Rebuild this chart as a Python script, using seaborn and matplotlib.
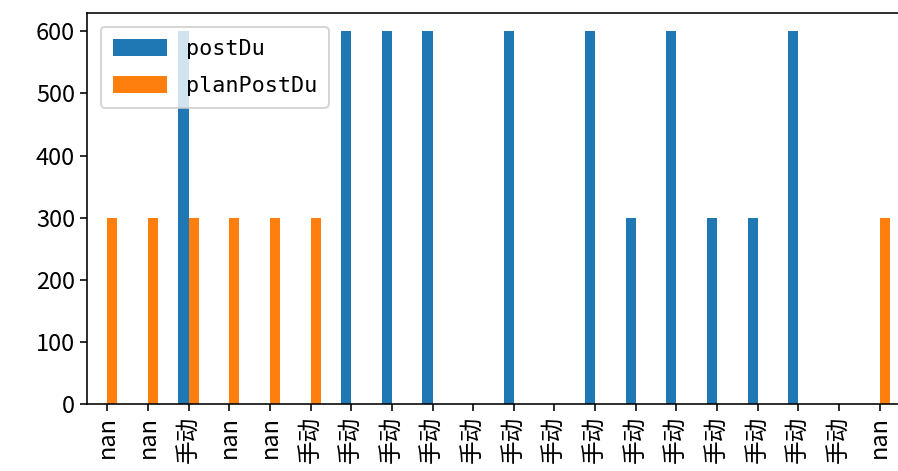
import pandas as pd
import numpy as np
import matplotlib
matplotlib.use("Agg")
import matplotlib.pyplot as plt
import seaborn as sns

# tick labels (one per bar group)
tick_labels = ["nan", "nan", "手动", "nan", "nan"] + ["手动"] * 14 + ["nan"]

# series values, NaN where no bar is drawn
post_du = [np.nan, np.nan, 600, np.nan, np.nan, np.nan, 600, 600, 600, np.nan,
           600, np.nan, 600, 300, 600, 300, 300, 600, np.nan, np.nan]
plan_post_du = [300, 300, 300, 300, 300, 300, np.nan, np.nan, np.nan, np.nan,
                np.nan, np.nan, np.nan, np.nan, np.nan, np.nan, np.nan, np.nan, np.nan, 300]

series_names = ["postDu", "planPostDu"]
colors = ["#1f77b4", "#ff7f0e"]

positions = list(range(len(tick_labels)))
df = pd.DataFrame({"pos": positions, "postDu": post_du, "planPostDu": plan_post_du})
long_df = df.melt(id_vars="pos", var_name="series", value_name="value").dropna()

plt.rcParams["font.family"] = ["Noto Sans CJK SC", "DejaVu Sans"]
plt.rcParams["axes.unicode_minus"] = False

fig = plt.figure(figsize=(898 / 144, 471 / 144), dpi=144)
ax = fig.add_axes([87 / 898, 67 / 471, 813 / 898, 391.3 / 471])

sns.barplot(
    data=long_df,
    x="pos",
    y="value",
    hue="series",
    order=positions,
    hue_order=series_names,
    palette=colors,
    width=0.5,
    saturation=1,
    errorbar=None,
    ax=ax,
)

ax.set_xlim(-0.5, len(positions) - 0.5)
ax.set_ylim(0, 630)
ax.set_xticks(positions)
ax.set_xticklabels(tick_labels, rotation=90)
ax.set_xlabel("")
ax.set_ylabel("")
ax.tick_params(labelsize=11.8, pad=2.5)

handles, labels = ax.get_legend_handles_labels()
ax.legend(
    handles,
    labels,
    loc="upper left",
    prop={"family": "DejaVu Sans Mono", "size": 10.9},
    handlelength=2.48,
    handleheight=0.83,
    handletextpad=0.85,
    borderpad=0.55,
    borderaxespad=0.64,
    labelspacing=0.77,
)

fig.savefig("out.png", dpi=144)
